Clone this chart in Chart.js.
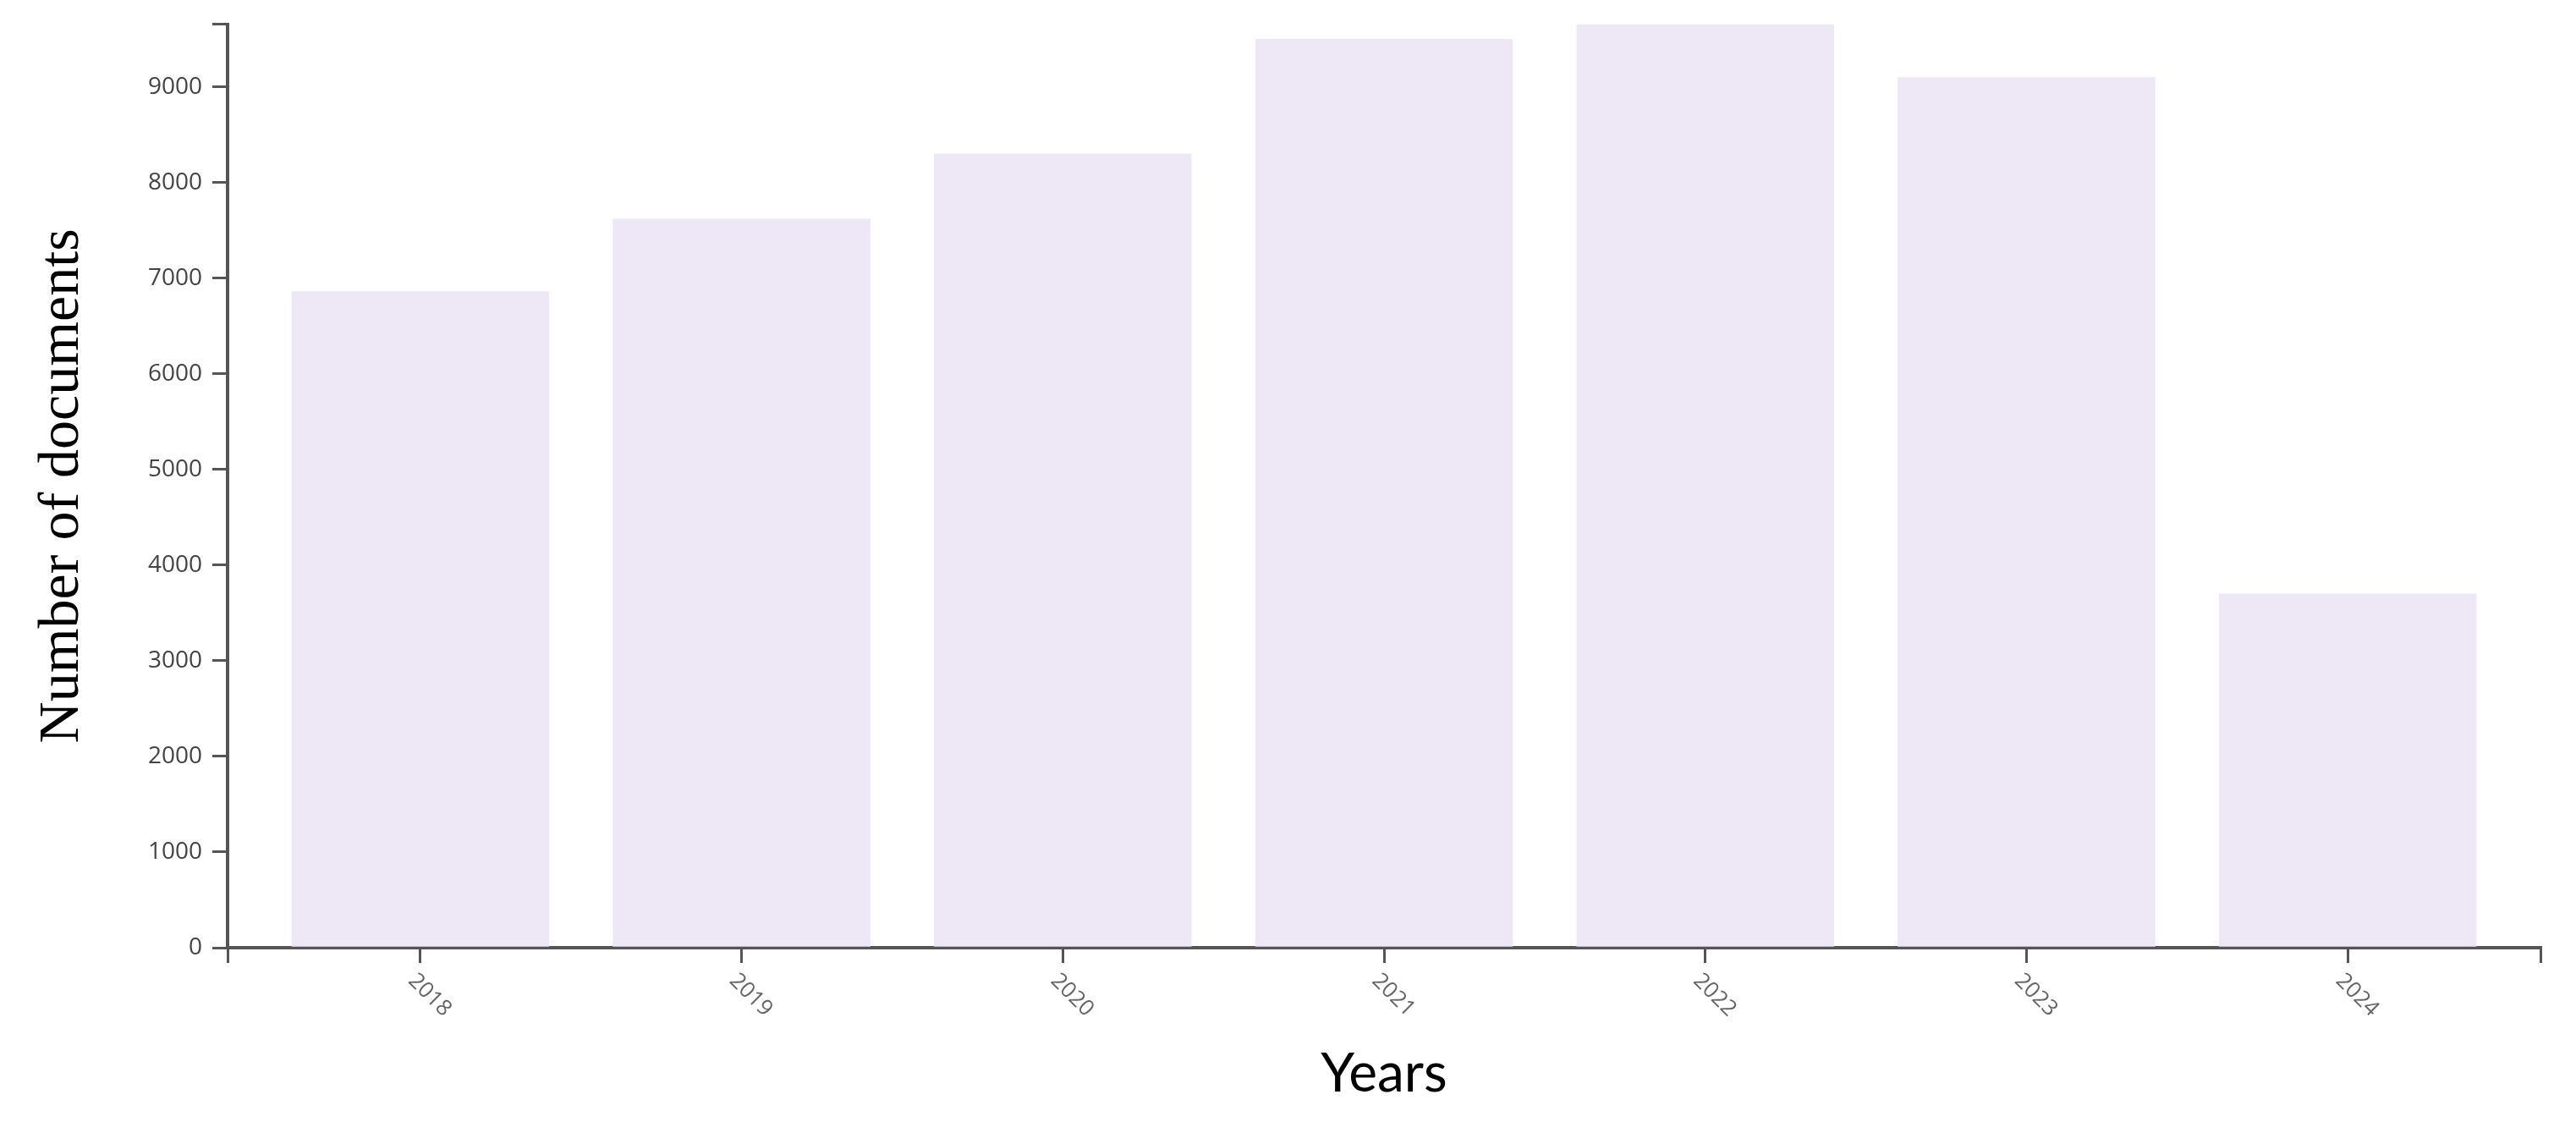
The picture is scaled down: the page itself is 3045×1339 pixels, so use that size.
<!DOCTYPE html>
<html>
<head>
<meta charset="utf-8">
<script src="https://cdn.jsdelivr.net/npm/chart.js@4.4.1/dist/chart.umd.min.js"></script>
<style>
    html, body { margin: 0; padding: 0; background: #fff; }
    #wrap { width: 3045px; height: 1339px; }
</style>
</head>
<body>
<div id="wrap"><canvas id="barChart"></canvas></div>
<script>
// ===================== DATA =====================
const years = ["2018", "2019", "2020", "2021", "2022", "2023", "2024"];
const documentCounts = [6860, 7620, 8300, 9500, 9655, 9100, 3700];
const yTicks = [0, 1000, 2000, 3000, 4000, 5000, 6000, 7000, 8000, 9000];

const yMax = Math.max(...documentCounts);
const xMin = Number(years[0]) - 0.6;
const xMax = Number(years[years.length - 1]) + 0.6;
const axisColor = "#555";

// rotated year labels (45deg, reading downwards) drawn under each tick
const yearLabels = {
    id: "yearLabels",
    afterDraw(chart) {
        const x = chart.scales.x;
        const ctx = chart.ctx;
        ctx.save();
        ctx.font = "26px 'Open Sans'";
        ctx.fillStyle = "#666";
        ctx.textAlign = "left";
        ctx.textBaseline = "middle";
        years.forEach(y => {
            const px = x.getPixelForValue(Number(y));
            ctx.save();
            ctx.translate(px - 10, x.top + 35);
            ctx.rotate(Math.PI / 4);
            ctx.fillText(y, 0, 0);
            ctx.restore();
        });
        ctx.restore();
    }
};

document.addEventListener("DOMContentLoaded", () => {
    const ctx = document.getElementById("barChart");

    new Chart(ctx, {
        type: "bar",
        data: {
            datasets: [{
                label: "Number of documents",
                data: years.map((y, i) => ({ x: Number(y), y: documentCounts[i] })),
                backgroundColor: "#ede7f6",
                borderWidth: 0,
                barThickness: "flex",
                categoryPercentage: 0.8,
                barPercentage: 1
            }]
        },
        options: {
            responsive: true,
            maintainAspectRatio: false,
            animation: false,
            layout: { padding: { top: 28, right: 42, left: 0, bottom: 0 } },
            plugins: {
                legend: { display: false },
                tooltip: { enabled: false }
            },
            scales: {
                x: {
                    type: "linear",
                    min: xMin,
                    max: xMax,
                    offset: false,
                    z: 1,
                    afterBuildTicks: scale => {
                        scale.ticks = [xMin, ...years.map(Number), xMax].map(v => ({ value: v }));
                    },
                    afterFit: scale => { scale.height = 219; },
                    ticks: { display: false },
                    grid: {
                        display: true,
                        offset: false,
                        drawOnChartArea: false,
                        drawTicks: true,
                        tickLength: 18,
                        color: axisColor,
                        lineWidth: 3
                    },
                    border: { display: true, color: axisColor, width: 4 },
                    title: {
                        display: true,
                        text: "Years",
                        color: "#000",
                        font: { family: "Lato", size: 64 },
                        padding: { top: 0, bottom: 31 }
                    }
                },
                y: {
                    min: 0,
                    max: yMax,
                    z: 1,
                    afterBuildTicks: scale => {
                        scale.ticks = [...yTicks, yMax].map(v => ({ value: v }));
                    },
                    afterFit: scale => { scale.width = 269; },
                    ticks: {
                        padding: 12,
                        color: "#444",
                        font: { family: "Open Sans", size: 28 },
                        callback: value => (yTicks.includes(value) ? value : "")
                    },
                    grid: {
                        display: true,
                        drawOnChartArea: false,
                        drawTicks: true,
                        tickLength: 18,
                        color: axisColor,
                        lineWidth: 3
                    },
                    border: { display: true, color: axisColor, width: 4 },
                    title: {
                        display: true,
                        text: "Number of documents",
                        color: "#000",
                        font: { family: "Liberation Serif", size: 68 },
                        padding: { top: 33, bottom: 0 }
                    }
                }
            }
        },
        plugins: [yearLabels]
    });
});
</script>
</body>
</html>
